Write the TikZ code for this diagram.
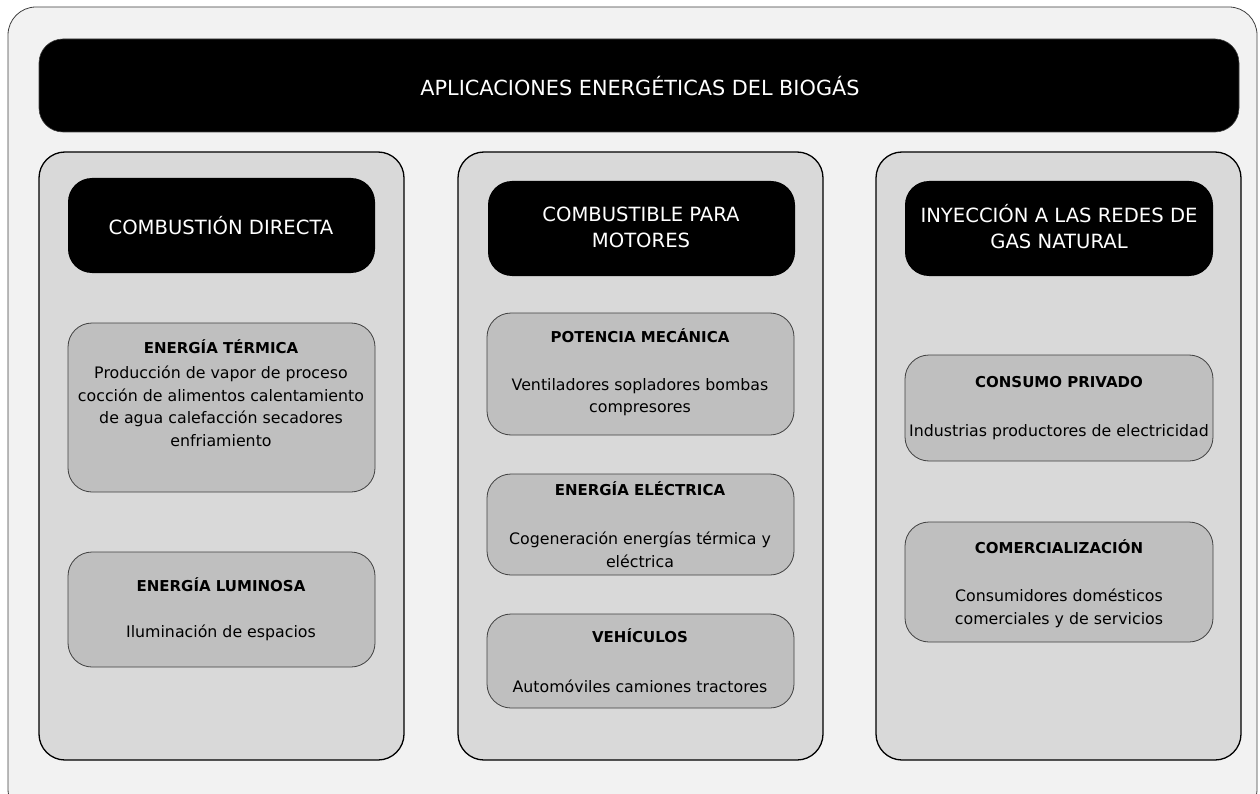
\documentclass[tikz,border=0pt]{standalone}
\usepackage{fontspec}
\setmainfont{DejaVu Sans}
\definecolor{outerbg}{HTML}{F2F2F2}
\definecolor{colbg}{HTML}{D9D9D9}
\definecolor{itembg}{HTML}{BFBFBF}
\definecolor{edge}{HTML}{404040}
\begin{document}
\begin{tikzpicture}[x=1pt,y=-1pt,
  boxbase/.style={rectangle,inner sep=0pt,outer sep=0pt,anchor=north west},
  outerbox/.style={boxbase,fill=outerbg,draw=edge,line width=0.8pt,rounded corners=28pt},
  titlebox/.style={boxbase,fill=black,draw=edge,line width=0.6pt,rounded corners=24pt},
  colbox/.style={boxbase,fill=colbg,draw=black,line width=1.3pt,rounded corners=26pt},
  headbox/.style={boxbase,fill=black,rounded corners=24pt},
  itembox/.style={boxbase,fill=itembg,draw=edge,line width=0.8pt,rounded corners=24pt},
  titletxt/.style={text=white,font=\fontsize{20.8}{24}\selectfont,inner sep=0pt},
  headtxt/.style={text=white,font=\fontsize{19.6}{26}\selectfont,align=center,inner sep=0pt,
    execute at begin node={\lineskiplimit=-20pt\relax}},
  itemtitle/.style={text=black,font=\bfseries\fontsize{15}{18}\selectfont,inner sep=0pt},
  itembody/.style={text=black,font=\fontsize{15.8}{22.5}\selectfont,align=center,inner sep=0pt,
    execute at begin node={\lineskiplimit=-20pt\relax}}]
\useasboundingbox (0,0) rectangle (1260,794);
\clip (0,0) rectangle (1260,794);
% outer panel
\node[outerbox,minimum width=1249pt,minimum height=810pt] (outer) at (8,7) {};
% title
\node[titlebox,minimum width=1200pt,minimum height=93pt] (title) at (39,39) {};
\node[titletxt] (titlet) at (640,86) {APLICACIONES ENERGÉTICAS DEL BIOGÁS};
% columns
\node[colbox,minimum width=365pt,minimum height=608pt] (col1) at (39,152) {};
\node[colbox,minimum width=365pt,minimum height=608pt] (col2) at (458,152) {};
\node[colbox,minimum width=365pt,minimum height=608pt] (col3) at (876,152) {};
% headings
\node[headbox,minimum width=307pt,minimum height=95pt] (h1) at (68,178) {};
\node[headtxt] (h1t) at (221,226) {COMBUSTIÓN DIRECTA};
\node[headbox,minimum width=307pt,minimum height=95pt] (h2) at (488,181) {};
\node[headtxt] (h2t) at (641,227) {COMBUSTIBLE PARA\\MOTORES};
\node[headbox,minimum width=308pt,minimum height=95pt] (h3) at (905,181) {};
\node[headtxt] (h3t) at (1059,227) {INYECCIÓN A LAS REDES DE\\GAS NATURAL};
% column 1 items
\node[itembox,minimum width=307pt,minimum height=169pt] (i11) at (68,323) {};
\node[itemtitle] (i11t) at (221,347) {ENERGÍA TÉRMICA};
\node[itembody] (i11b) at (221,406.5) {Producción de vapor de proceso\\cocción de alimentos calentamiento\\de agua calefacción secadores\\enfriamiento};
\node[itembox,minimum width=307pt,minimum height=115pt] (i12) at (68,552) {};
\node[itemtitle] (i12t) at (221,585) {ENERGÍA LUMINOSA};
\node[itembody] (i12b) at (221,633) {Iluminación de espacios};
% column 2 items
\node[itembox,minimum width=307pt,minimum height=122pt] (i21) at (487,313) {};
\node[itemtitle] (i21t) at (640,336) {POTENCIA MECÁNICA};
\node[itembody] (i21b) at (640,397) {Ventiladores sopladores bombas\\compresores};
\node[itembox,minimum width=307pt,minimum height=101pt] (i22) at (487,474) {};
\node[itemtitle] (i22t) at (640,489) {ENERGÍA ELÉCTRICA};
\node[itembody] (i22b) at (640,550) {Cogeneración energías térmica y\\eléctrica};
\node[itembox,minimum width=307pt,minimum height=94pt] (i23) at (487,614) {};
\node[itemtitle] (i23t) at (640,636) {VEHÍCULOS};
\node[itembody] (i23b) at (640,686) {Automóviles camiones tractores};
% column 3 items
\node[itembox,minimum width=308pt,minimum height=106pt] (i31) at (905,355) {};
\node[itemtitle] (i31t) at (1059,382) {CONSUMO PRIVADO};
\node[itembody] (i31b) at (1059,432) {Industrias productores de electricidad};
\node[itembox,minimum width=308pt,minimum height=120pt] (i32) at (905,522) {};
\node[itemtitle] (i32t) at (1059,547) {COMERCIALIZACIÓN};
\node[itembody] (i32b) at (1059,608.5) {Consumidores domésticos\\comerciales y de servicios};
\end{tikzpicture}
\end{document}
